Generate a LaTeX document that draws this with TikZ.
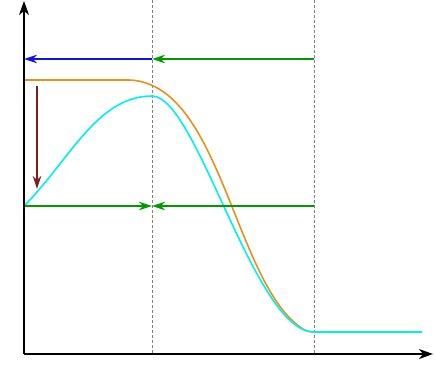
\documentclass[tikz,border=0pt]{standalone}
\usetikzlibrary{arrows.meta}
\definecolor{cblue}{RGB}{20,20,225}
\definecolor{cgreen}{RGB}{0,155,0}
\definecolor{corange}{RGB}{232,145,25}
\definecolor{ccyan}{RGB}{0,240,240}
\definecolor{cbrown}{RGB}{125,30,30}
\tikzset{
  axis/.style={line width=1.4pt,-{Stealth[length=14pt,width=10pt,inset=4pt]}},
  guide/.style={gray,line width=0.6pt,dash pattern=on 3pt off 2pt},
  curve/.style={line width=1.6pt},
  marrow/.style={line width=1.6pt,-{Stealth[length=13pt,width=8.5pt,inset=4pt]}}
}
\begin{document}
\begin{tikzpicture}[x=1pt,y=-1pt]
\useasboundingbox (0,0) rectangle (435,381);
% key coordinates
\coordinate (O) at (24,354);
\coordinate (Ytop) at (24,1);
\coordinate (Xend) at (433,354);
\coordinate (A1) at (152,0);
\coordinate (A2) at (152,354);
\coordinate (B1) at (314,0);
\coordinate (B2) at (314,354);
\coordinate (TL) at (24,59);
\coordinate (TM) at (152,59);
\coordinate (TR) at (314,59);
\coordinate (ML) at (24,206);
\coordinate (MM) at (152,206);
\coordinate (MR) at (314,206);
\coordinate (BrA) at (37,86);
\coordinate (BrB) at (37,189);
% guides
\draw[guide] (A1) -- (A2);
\draw[guide] (B1) -- (B2);
% orange curve
\draw[curve,corange] (24,80) -- (128,80)
  .. controls (138,80) and (146,82.7) .. (152.7,85.7)
  .. controls (222.7,117.2) and (240,283.8) .. (300,327)
  .. controls (306,331.3) and (309,332) .. (314,332);
% cyan curve
\draw[curve,ccyan] (ML) .. controls (69,161) and (97,96) .. (152,96)
  .. controls (197,96) and (254,332) .. (314,332) -- (422,332);
% arrows
\draw[marrow,cblue] (TM) -- (TL);
\draw[marrow,cgreen] (TR) -- (TM);
\draw[marrow,cgreen] (ML) -- (MM);
\draw[marrow,cgreen] (MR) -- (MM);
\draw[marrow,cbrown] (BrA) -- (BrB);
% axes
\draw[axis] (O) -- (Ytop);
\draw[axis] (O) -- (Xend);
\end{tikzpicture}
\end{document}
